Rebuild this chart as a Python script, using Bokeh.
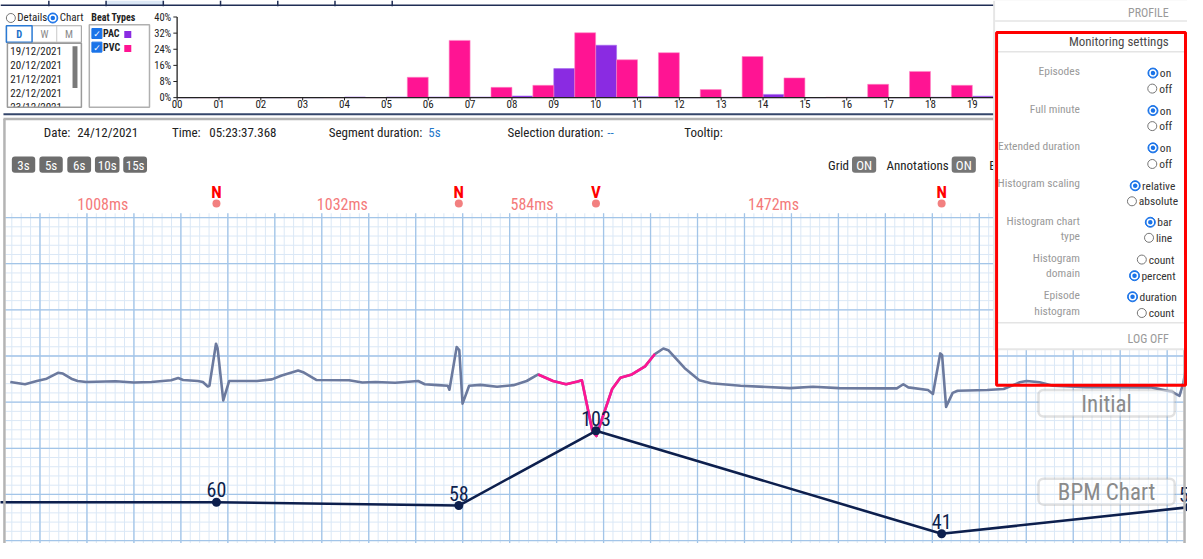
import numpy as np
from bokeh.plotting import figure
from bokeh.models import Range1d, BoxAnnotation
from bokeh.core.properties import value
from bokeh.embed import file_html
from bokeh.resources import INLINE

# ---------------- data: hourly histogram (percent of beats) ----------------
hour_labels = ["00", "01", "02", "03", "04", "05", "06", "07", "08", "09", "10", "11",
               "12", "13", "14", "15", "16", "17", "18", "19", "20", "21", "22", "23"]
pac_pct = [0, 0.2, 0, 0, 0.3, 0.3, 0.3, 0.3, 0.8, 14.4, 26.0, 0.5,
           0, 0.2, 1.6, 0, 0.2, 0, 0.2, 0.7, 0, 0, 0, 0]
pvc_pct = [0, 0, 0, 0, 0, 10.1, 28.4, 5.1, 6.1, 32.2, 18.8, 22.3,
           4.0, 20.4, 9.8, 0.2, 6.6, 13.0, 6.1, 0, 0, 0, 0, 0]
pct_ticks = [0, 8, 16, 24, 32, 40]
pct_labels = ["0%", "8%", "16%", "24%", "32%", "40%"]

dates = ["19/12/2021", "20/12/2021", "21/12/2021", "22/12/2021", "23/12/2021"]

# ---------------- data: ECG strip (seconds, mV) ----------------
ecg_t = [0.008, 0.071, 0.121, 0.163, 0.184, 0.211, 0.232, 0.268, 0.295, 0.331, 0.457, 0.534,
         0.609, 0.693, 0.723, 0.744, 0.807, 0.828, 0.849, 0.856, 0.884, 0.891, 0.915, 0.940,
         1.059, 1.122, 1.164, 1.234, 1.255, 1.311, 1.451, 1.507, 1.563, 1.647, 1.745, 1.773,
         1.829, 1.871, 1.878, 1.909, 1.920, 1.934, 1.962, 2.011, 2.081, 2.151, 2.207, 2.256,
         2.319, 2.375, 2.424, 2.442, 2.487, 2.504, 2.529, 2.571, 2.606, 2.655, 2.711, 2.753,
         2.789, 2.810, 2.879, 2.942, 2.992, 3.118, 3.328, 3.426, 3.538, 3.720, 3.783, 3.811,
         3.832, 3.916, 3.937, 3.968, 3.976, 3.993, 4.021, 4.042, 4.168, 4.238, 4.307, 4.336,
         4.391, 4.448, 4.588, 4.868, 4.953, 4.987, 5.004, 5.017]
ecg_mv = [-0.007, -0.032, 0.003, 0.028, 0.056, 0.092, 0.084, 0.028, 0.003, -0.007, 0.000, -0.014,
          -0.007, 0.011, 0.035, 0.014, 0.003, -0.007, -0.056, -0.049, 0.407, 0.355, -0.207, 0.003,
          0.003, 0.021, 0.063, 0.116, 0.098, 0.014, 0.011, -0.014, -0.007, -0.016, 0.003, -0.032,
          -0.042, -0.049, -0.092, 0.372, 0.337, -0.242, -0.049, -0.039, -0.060, -0.042, 0.003, 0.074,
          0.003, -0.032, -0.003, 0.011, -0.540, -0.593, -0.400, -0.084, 0.039, 0.074, 0.161, 0.295,
          0.355, 0.337, 0.144, 0.011, -0.021, -0.049, -0.074, -0.060, -0.074, -0.077, -0.077, -0.032,
          -0.066, -0.095, -0.137, 0.302, 0.284, -0.277, -0.126, -0.102, -0.095, -0.084, -0.011, 0.003,
          -0.011, -0.049, -0.063, -0.066, -0.113, -0.158, -0.011, 0.179]
pvc_window = (2.256, 2.753)

# beats
first_beat_t = 0.886
beat_types = ["N", "N", "V", "N"]
rr_ms = [1008, 1032, 584, 1472]
bpm_vals = [60, 58, 103, 41]
bpm_before = 60
next_rr_ms = 1053
bpm_after = 57

beat_t = [first_beat_t]
for rr in rr_ms[1:]:
    beat_t.append(beat_t[-1] + rr / 1000.0)
prev_t = first_beat_t - rr_ms[0] / 1000.0
next_t = beat_t[-1] + next_rr_ms / 1000.0
rr_mid = [((beat_t[i - 1] if i > 0 else prev_t) + beat_t[i]) / 2 for i in range(len(beat_t))]
rr_text = [f"{v}ms" for v in rr_ms]

# ---------------- figure (pixel canvas) ----------------
F = value("Roboto Condensed, Roboto")
p = figure(width=1187, height=543, x_range=Range1d(0, 1203), y_range=Range1d(559, 0),
           output_backend="svg", toolbar_location=None, min_border=0,
           x_axis_type=None, y_axis_type=None)
p.outline_line_color = None
p.background_fill_color = "white"
p.border_fill_color = "white"


def txt(x, y, s, size=13, color="#222222", align="left", baseline="middle", style="normal",
        font=F, level="glyph", target=None):
    (target or p).text(x=[x], y=[y], text=[s], text_font=font, text_font_size=f"{size}px",
                       text_color=color, text_align=align, text_baseline=baseline,
                       text_font_style=style, level=level)


def radio(x, y, on):
    if on:
        p.scatter(x=[x], y=[y], size=10, fill_color="#1a73e8", line_color="#1a73e8")
        p.scatter(x=[x], y=[y], size=6, fill_color="#1a73e8", line_color="white", line_width=1.5)
    else:
        p.scatter(x=[x], y=[y], size=9, fill_color="white", line_color="#767676")


# ---- top timeline strip ----
p.quad(left=107, right=165, top=0, bottom=5, fill_color="#dce8f6", line_color=None)
p.segment(x0=0, y0=5, x1=1008, y1=5, line_color="#1f2d55", line_width=1.5)
tx = [49 + 58 * k for k in range(7)]
p.segment(x0=tx, y0=[0] * 7, x1=tx, y1=[6] * 7, line_color="#1f2d55", line_width=1.5)

# ---- left controls ----
radio(10.5, 18, False)
txt(17, 18, "Details", size=11)
radio(53, 18, True)
txt(60, 18, "Chart", size=11)

p.quad(left=6, right=82, top=26, bottom=43, fill_color="white", line_color="#a8a8a8", line_width=1.2)
p.quad(left=6, right=32, top=26, bottom=43, fill_color="white", line_color="#2a7ad5", line_width=1.5)
p.segment(x0=[57], y0=[26], x1=[57], y1=[43], line_color="#c8c8c8", line_width=1)
txt(19, 34.5, "D", size=10.5, color="#1a6fc9", align="center", style="bold")
txt(44.5, 34.5, "W", size=10.5, color="#8a8a8a", align="center")
txt(69.5, 34.5, "M", size=10.5, color="#8a8a8a", align="center")

p.quad(left=7, right=82, top=44, bottom=110, fill_color="white", line_color=None)
p.text(x=[10] * len(dates), y=[52.5 + 14.5 * i for i in range(len(dates))], text=dates,
       text_font=F, text_font_size="11px", text_color="#222222", text_baseline="middle")
p.quad(left=5, right=84, top=110, bottom=115, fill_color="white", line_color=None)
p.quad(left=7, right=82, top=44, bottom=110, fill_color=None, line_color="#9a9a9a", line_width=1.5)
p.quad(left=73, right=78, top=47, bottom=90, fill_color="#7a7a7a", line_color=None)

txt(92, 17.5, "Beat Types", size=10, style="bold")
p.quad(left=90, right=151, top=25, bottom=110, fill_color="white", line_color="#b0b0b0", line_width=1.5)
p.scatter(x=[97.7, 97.7], y=[34, 48], marker="square", size=10, fill_color="#1a73e8", line_color="#1a73e8")
p.text(x=[97.7, 97.7], y=[34.5, 48.5], text=["\u2713", "\u2713"], text_font=value("DejaVu Sans"),
       text_font_size="9px", text_color="white", text_align="center", text_baseline="middle",
       text_font_style="bold")
txt(104, 34, "PAC", size=10, style="bold")
txt(104, 48, "PVC", size=10, style="bold")
p.scatter(x=[129], y=[35], marker="square", size=7, fill_color="#8a2be2", line_color=None)
p.scatter(x=[129], y=[49.5], marker="square", size=7, fill_color="#ff1493", line_color=None)

# ---- histogram (own scales) ----
hist = p.subplot(x_source=Range1d(0, 24), y_source=Range1d(0, 40),
                 x_target=Range1d(179, 1197), y_target=Range1d(100, 17))
hours = list(range(len(hour_labels)))
hist.vbar(x=[h + 0.25 for h in hours], width=0.5, bottom=0, top=pac_pct,
          fill_color="#8a2be2", line_color="#a46af0", line_width=0.6)
hist.vbar(x=[h + 0.75 for h in hours], width=0.5, bottom=0, top=pvc_pct,
          fill_color="#ff1493", line_color="#ff86c4", line_width=0.6)
hist.segment(x0=[0, 0], y0=[0, 0], x1=[24, 0], y1=[0, 40], line_color="#222222", line_width=1.3)
hist.segment(x0=[-0.09] * len(pct_ticks), y0=pct_ticks, x1=[0] * len(pct_ticks), y1=pct_ticks,
             line_color="#222222", line_width=1)
hist.text(x=[-0.14] * len(pct_ticks), y=pct_ticks, text=pct_labels, text_font=F,
          text_font_size="10.5px", text_color="#222222", text_align="right", text_baseline="middle")
hist.segment(x0=hours, y0=[0] * 24, x1=hours, y1=[-1.4] * 24, line_color="#222222", line_width=1)
hist.text(x=hours, y=[-1.0] * 24, text=hour_labels, text_font=F, text_font_size="11px",
          text_color="#222222", text_align="center", text_baseline="top")

# separator
p.segment(x0=3, y0=117, x1=1203, y1=117, line_color="#34466b", line_width=2)

# ---- ECG grid ----
ecg = p.subplot(x_source=Range1d(0, 5), y_source=Range1d(0, 1),
                x_target=Range1d(8, 1198), y_target=Range1d(392, 297))
t_lo, t_hi = -0.0126, 5.004
mv_top, mv_bot = 1.821, -1.77
g0_t, g0_mv = 0.1345, 0.274
minor_t = [g0_t + 0.04 * k for k in range(-4, 130) if t_lo <= g0_t + 0.04 * k <= t_hi]
minor_mv = [g0_mv + 0.1 * k for k in range(-25, 20) if mv_bot <= g0_mv + 0.1 * k <= mv_top]
major_t = [g0_t + 0.2 * k for k in range(-1, 26) if t_lo <= g0_t + 0.2 * k <= t_hi]
major_mv = [g0_mv + 0.5 * k for k in range(-5, 4) if mv_bot <= g0_mv + 0.5 * k <= mv_top]
ecg.segment(x0=minor_t, y0=[mv_bot] * len(minor_t), x1=minor_t, y1=[mv_top] * len(minor_t),
            line_color="#dbe8f6", line_width=1)
ecg.segment(x0=[t_lo] * len(minor_mv), y0=minor_mv, x1=[t_hi] * len(minor_mv), y1=minor_mv,
            line_color="#dbe8f6", line_width=1)
ecg.segment(x0=major_t, y0=[mv_bot] * len(major_t), x1=major_t, y1=[mv_top] * len(major_t),
            line_color="#a3c5e8", line_width=1.3)
ecg.segment(x0=[t_lo] * len(major_mv), y0=major_mv, x1=[t_hi] * len(major_mv), y1=major_mv,
            line_color="#a3c5e8", line_width=1.3)

# ---- ECG trace ----
ta = np.array(ecg_t)
ma = np.array(ecg_mv)
ecg.line(x=ta, y=ma, line_color="#6c7a9e", line_width=2.6, line_join="round")
sel = (ta >= pvc_window[0]) & (ta <= pvc_window[1])
ecg.line(x=ta[sel], y=ma[sel], line_color="#ff1493", line_width=2.6, line_join="round")

# ---- BPM chart ----
bpm_lo, bpm_hi = 0, 100
bpm = p.subplot(x_source=Range1d(0, 5), y_source=Range1d(bpm_lo, bpm_hi),
                x_target=Range1d(8, 1198), y_target=Range1d(619.1, 448.1))
bpm_label_pad = 7.5  # in bpm units, lifts the value label above its dot
bx = [prev_t] + beat_t + [next_t]
by = [bpm_before] + bpm_vals + [bpm_after]
bpm.line(x=bx, y=by, line_color="#0d1f4d", line_width=2.6)
bpm.scatter(x=beat_t + [next_t], y=bpm_vals + [bpm_after], size=9, fill_color="#0d1f4d", line_color=None)
bpm.text(x=beat_t + [next_t], y=[v + bpm_label_pad for v in bpm_vals + [bpm_after]],
         text=[str(v) for v in bpm_vals + [bpm_after]],
         text_font=F, text_font_size="20px", text_color="#0d1f4d",
         text_align="center", text_baseline="middle")

# ---- ECG panel border ----
p.segment(x0=[3, 4, 1200], y0=[122, 122, 122], x1=[1200, 4, 1200], y1=[122, 559, 559],
          line_color="#b4b4b4", line_width=2.5)

# ---- header (labels right-aligned to the value that follows) ----
hy = 136
hs = 13
txt(70.8, hy, "Date:", size=hs, align="right")
txt(77.7, hy, "24/12/2021", size=hs)
txt(202.8, hy, "Time:", size=hs, align="right")
txt(211.6, hy, "05:23:37.368", size=hs)
txt(427.5, hy, "Segment duration:", size=hs, align="right")
txt(433.6, hy, "5s", size=hs, color="#2677c9")
txt(611, hy, "Selection duration:", size=hs, align="right")
txt(615, hy, "--", size=hs, color="#2677c9")
txt(693, hy, "Tooltip:", size=hs)

btns = [("3s", 11.5, 35.2), ("5s", 39.4, 63.1), ("6s", 67.7, 91.8), ("10s", 95.7, 120.6), ("15s", 124.4, 148.5)]
for s, l, r in btns:
    p.add_layout(BoxAnnotation(left=l, right=r, top=160.7, bottom=177.3, fill_color="#6d6d6d",
                               fill_alpha=1, line_color=None, border_radius=3))
    txt((l + r) / 2, 169.5, s, size=13, color="white", align="center", level="overlay")

txt(860, 169.5, "Grid", size=hs, align="right")
txt(961, 169.5, "Annotations", size=hs, align="right")
txt(1002, 169.5, "B", size=hs)
for l, r in [(863, 887.5), (964, 988.5)]:
    p.add_layout(BoxAnnotation(left=l, right=r, top=160.7, bottom=177.3, fill_color="#767676",
                               fill_alpha=1, line_color=None, border_radius=3))
    txt((l + r) / 2, 169.5, "ON", size=13, color="white", align="center", level="overlay")

# ---- beat annotations ----
ann = p.subplot(x_source=Range1d(0, 5), y_source=Range1d(0, 559),
                x_target=Range1d(8, 1198), y_target=Range1d(0, 559))
ann.text(x=beat_t, y=[197.5] * len(beat_t), text=beat_types, text_font=F, text_font_size="17px",
         text_color="#ff0000", text_font_style="bold", text_align="center", text_baseline="middle")
ann.scatter(x=beat_t, y=[209] * len(beat_t), size=8, fill_color="#f28080", line_color=None)
ann.text(x=[m + 0.02 for m in rr_mid], y=[209.5] * len(rr_mid), text=rr_text, text_font=F,
         text_font_size="16px", text_color="#f47a7a", text_align="center", text_baseline="middle")

# ---- chart labels ----
for s, top, bot, cy in [("Initial", 401, 428.3, 415.5), ("BPM Chart", 492.3, 519, 506)]:
    p.add_layout(BoxAnnotation(left=1052, right=1190, top=top, bottom=bot, fill_color="white",
                               fill_alpha=0.55, line_color="#9a9a9a", line_width=2.5, border_radius=5))
    txt(1121, cy, s, size=23, color="#8a8a8a", align="center", level="overlay")

# ---- settings panel ----
p.quad(left=1006, right=1203, top=0, bottom=360, fill_color="#e6e6e6", line_color=None)
p.quad(left=1008, right=1203, top=0, bottom=358, fill_color="white", line_color=None)
txt(1184, 12.7, "PROFILE", size=12, color="#9a9a9a", align="right")
p.segment(x0=[1008, 1010, 1010], y0=[21, 52.7, 331.7], x1=[1203, 1200, 1200], y1=[21, 52.7, 331.7],
          line_color="#e4e4e4", line_width=1.5)
txt(1184, 42.3, "Monitoring settings", size=13, color="#4a4a4a", align="right")
for s, y in [("Episodes", 72.7), ("Full minute", 111.7), ("Extended duration", 150),
             ("Histogram scaling", 188.3), ("Histogram chart", 226.7), ("type", 242.7),
             ("Histogram", 265), ("domain", 280.7), ("Episode", 303.3), ("histogram", 319.3)]:
    txt(1094, y, s, size=11.5, color="#9a9a9a", align="right")
opts = [("on", 74.7, True, 1168), ("off", 90.7, False, 1167.3), ("on", 113.3, True, 1168),
        ("off", 129.3, False, 1167.3), ("on", 151.7, True, 1168), ("off", 168.3, False, 1167.3),
        ("relative", 190.7, True, 1150), ("absolute", 206.7, False, 1146.7), ("bar", 228.3, True, 1165.3),
        ("line", 244.3, False, 1164), ("count", 266.7, False, 1156.7), ("percent", 283.3, True, 1149.3),
        ("duration", 305, True, 1147.3), ("count", 321.7, False, 1156.7)]
for s, y, on, cx in opts:
    radio(cx, y, on)
    txt(cx + 7, y, s, size=11.5, color="#333333")
txt(1184, 348.3, "LOG OFF", size=12, color="#9a9a9a", align="right")
p.quad(left=1009.5, right=1201, top=33, bottom=396, fill_color=None, line_color="#ff0000", line_width=3)

open("out.html", "w").write(file_html(p, INLINE))
